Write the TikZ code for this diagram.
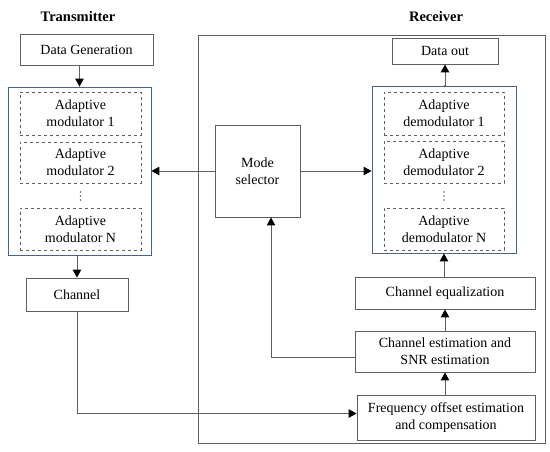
\documentclass[tikz,border=0pt]{standalone}
\usepackage{fontspec}
\setmainfont{Liberation Serif}
\usetikzlibrary{positioning,arrows.meta}

\definecolor{linegray}{RGB}{95,95,95}
\definecolor{bankblue}{RGB}{72,100,140}

\begin{document}
\begin{tikzpicture}[
  x=1pt, y=1pt,
  box/.style={draw=linegray, line width=0.9pt, align=center, inner sep=2pt, font=\fontsize{14}{17}\selectfont},
  subbox/.style={draw=linegray, dashed, line width=0.8pt, align=center, inner sep=2pt, minimum height=42pt, font=\fontsize{14}{17}\selectfont},
  bank/.style={draw=bankblue, line width=0.9pt, inner sep=0pt},
  title/.style={font=\fontsize{14.5}{17}\selectfont\bfseries},
  arrow/.style={-{Triangle[length=8pt,width=8.5pt,black]}, draw=linegray, line width=1pt}
]
\useasboundingbox (0,0) rectangle (550,-451);

% titles
\node[title] (txtitle) at (78,-17) {Transmitter};
\node[title] (rxtitle) at (436,-17) {Receiver};

% receiver frame
\node[draw=linegray, line width=0.9pt, minimum width=347pt, minimum height=408pt, inner sep=0pt] (rxframe) at (371.5,-239) {};

% transmitter side
\node[box, minimum width=133pt, minimum height=31pt] (datagen) at (86.5,-49.5) {Data Generation};
\node[bank, minimum width=143pt, minimum height=168pt] (modbank) at (79.5,-171) {};
\node[subbox, minimum width=121pt, minimum height=43pt] (mod1) at (80.5,-113.5) {Adaptive\\ modulator 1};
\node[subbox, minimum width=121pt, minimum height=41pt] (mod2) at (80.5,-162.5) {Adaptive\\ modulator 2};
\coordinate (moddots) at (80.5,-196);
\node[subbox, minimum width=121pt] (modN) at (80.5,-229) {Adaptive\\ modulator N};
\node[box, minimum width=102pt, minimum height=33pt] (channel) at (77,-294.5) {Channel};

% receiver side
\node[box, minimum width=85pt, minimum height=92pt] (modesel) at (257.5,-171) {Mode\\ selector};
\node[box, minimum width=106pt, minimum height=26pt] (dataout) at (445,-51) {Data out};
\node[bank, minimum width=144pt, minimum height=167pt] (demodbank) at (444,-169.5) {};
\node[subbox, minimum width=120pt, minimum height=43pt] (demod1) at (444,-113.5) {Adaptive\\ demodulator 1};
\node[subbox, minimum width=120pt] (demod2) at (444,-162) {Adaptive\\ demodulator 2};
\coordinate (demoddots) at (444,-196);
\node[subbox, minimum width=120pt] (demodN) at (444,-229) {Adaptive\\ demodulator N};
\node[box, minimum width=180pt, minimum height=32pt] (chaneq) at (445,-293) {Channel equalization};
\node[box, minimum width=180pt, minimum height=41pt] (chanest) at (445,-351.5) {Channel estimation and\\ SNR estimation};
\node[box, minimum width=178pt, minimum height=45pt] (freq) at (446,-417.5) {Frequency offset estimation\\ and compensation};

% vertical dots between the sub-blocks
\foreach \d in {moddots, demoddots}
  \foreach \k in {-4,0,4}
    \fill[linegray] ([yshift=\k pt]\d) circle (0.8pt);

% connections
\draw[arrow] (modbank.north |- datagen.south) -- (modbank.north);
\draw[arrow] (channel.north |- modbank.south) -- (channel.north);
\draw[arrow] (modesel.west) -- (modesel.west -| modbank.east);
\draw[arrow] (modesel.east) -- (modesel.east -| demodbank.west);
\draw[arrow] (channel.south) |- ([yshift=4pt]freq.west);
\draw[arrow] (chanest.south |- freq.north) -- (chanest.south);
\draw[arrow] (chanest.north) -- (chaneq.south);
\draw[arrow] (demodbank.south |- chaneq.north) -- (demodbank.south);
\draw[arrow] (demodbank.north) -- (demodbank.north -| dataout.south) -- (dataout.south);
\draw[arrow] ([yshift=-6pt]chanest.west) -| ([xshift=13.5pt]modesel.south);
\end{tikzpicture}
\end{document}
